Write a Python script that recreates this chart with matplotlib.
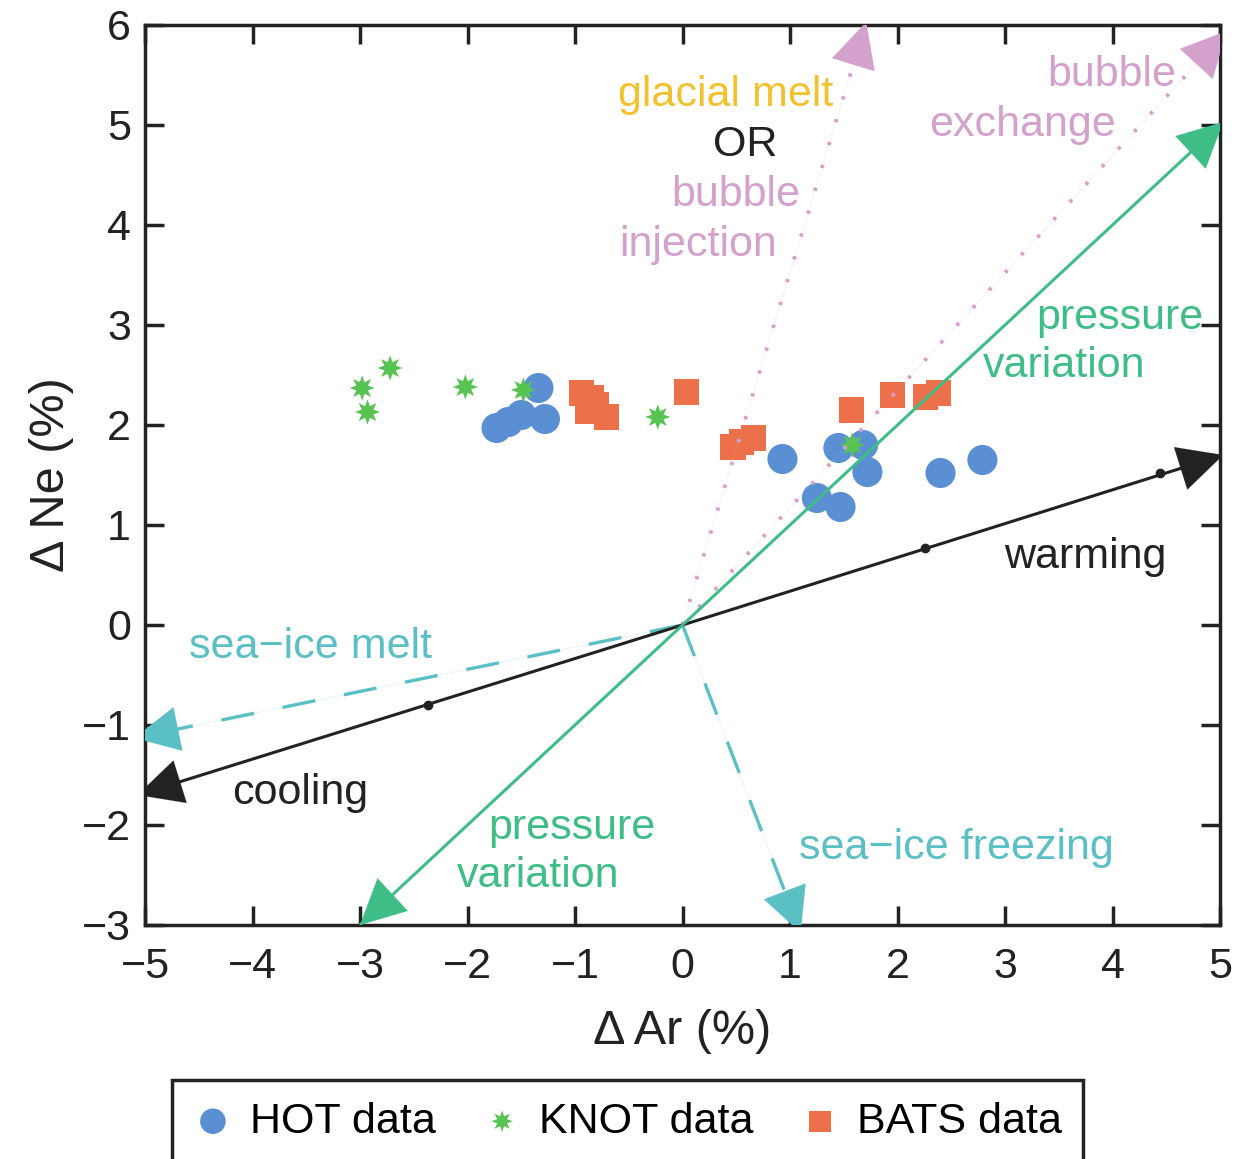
import matplotlib
matplotlib.use("Agg")
import matplotlib.pyplot as plt

plt.rcParams['font.family'] = ['Liberation Sans', 'DejaVu Sans']
plt.rcParams['lines.scale_dashes'] = False

# ---- data ----
hot_x = [-1.73, -1.62, -1.50, -1.34, -1.28, 0.93, 1.45, 1.68, 1.72, 1.25, 1.47, 2.40, 2.79]
hot_y = [1.97, 2.03, 2.10, 2.37, 2.06, 1.66, 1.77, 1.80, 1.53, 1.27, 1.18, 1.52, 1.65]

knot_x = [-2.72, -2.98, -2.93, -2.02, -1.48, -0.23, 1.58]
knot_y = [2.57, 2.37, 2.13, 2.38, 2.35, 2.08, 1.80]

bats_x = [-0.94, -0.85, -0.80, -0.88, -0.71, 0.04, 0.47, 0.55, 0.66, 1.57, 1.95, 2.26, 2.38]
bats_y = [2.32, 2.27, 2.20, 2.14, 2.08, 2.33, 1.78, 1.83, 1.87, 2.15, 2.30, 2.28, 2.32]

# process vectors (start, end)
warming = [(0, 0), (5.03, 1.70)]
cooling = [(0, 0), (-5.07, -1.70)]
temp_dots_x = [-2.37, 2.26, 4.44]
temp_dots_y = [-0.80, 0.77, 1.52]
pressure = [(-3.0, -3.0), (5.03, 5.03)]
seaice_melt = [(0, 0), (-5.10, -1.13)]
seaice_freeze = [(0, 0), (1.10, -3.08)]
glacial = [(0, 0), (1.71, 6.03)]
bubble_exch = [(0, 0), (5.06, 5.94)]

xticks = [-5, -4, -3, -2, -1, 0, 1, 2, 3, 4, 5]
yticks = [-3, -2, -1, 0, 1, 2, 3, 4, 5, 6]

# ---- colours ----
c_hot = '#5b8fd4'
c_knot = '#57c452'
c_bats = '#ec714a'
c_press = '#3fbd87'
c_cyan = '#5bc0c6'
c_pink = '#d4a0cc'
c_yellow = '#f2c12e'
c_dark = '#222222'

W, H = 1235, 1159
fig = plt.figure(figsize=(W / 100, H / 100), dpi=100)
ax = fig.add_axes([145 / W, 1 - 925 / H, 1075 / W, 900 / H])
ax.set_xlim(-5, 5)
ax.set_ylim(-3, 6)

FS = 31

ax.scatter(hot_x, hot_y, s=470, marker='o', color=c_hot, edgecolors='none',
           zorder=2, label='HOT data')
ax.scatter(knot_x, knot_y, s=330, marker=(8, 1, 0), color=c_knot, edgecolors='none',
           zorder=2.1, label='KNOT data')
ax.scatter(bats_x, bats_y, s=330, marker='s', color=c_bats, edgecolors='none',
           zorder=2.2, label='BATS data')

head = '-|>,head_length=1.6,head_width=0.8'


def arrow_head(p0, p1, color):
    ann = ax.annotate('', xy=p1, xytext=p0, xycoords='data', textcoords='data',
                      annotation_clip=False,
                      arrowprops=dict(arrowstyle=head, color=color, lw=0.1,
                                      shrinkA=0, shrinkB=0, mutation_scale=20),
                      zorder=4)
    ann.arrow_patch.set_clip_path(ax.patch)


def vec(seg, color, lw, dashes=None, both=False):
    (x0, y0), (x1, y1) = seg
    kw = dict(color=color, lw=lw, zorder=3, solid_capstyle='butt')
    if dashes is not None:
        kw['dashes'] = dashes
    ax.plot([x0, x1], [y0, y1], **kw)
    arrow_head((x0, y0), (x1, y1), color)
    if both:
        arrow_head((x1, y1), (x0, y0), color)


vec(glacial, c_pink, 2.8, dashes=(2.4, 14.8))
vec(bubble_exch, c_pink, 2.8, dashes=(2.4, 14.8))
vec(seaice_melt, c_cyan, 2.4, dashes=(24, 21))
vec(seaice_freeze, c_cyan, 2.4, dashes=(24, 21))
vec(warming, c_dark, 2.2)
vec(cooling, c_dark, 2.2)
ax.plot(temp_dots_x, temp_dots_y, 'o', color=c_dark, ms=6, zorder=3.5)
vec(pressure, c_press, 2.2, both=True)

# ---- labels ----
def lab(x, y, s, c):
    ax.text(x, y, s, color=c, fontsize=FS, ha='center', va='center', zorder=5)

lab(0.40, 5.30, 'glacial melt', c_yellow)
lab(0.58, 4.80, 'OR', c_dark)
lab(0.50, 4.30, 'bubble', c_pink)
lab(0.14, 3.80, 'injection', c_pink)
lab(3.99, 5.50, 'bubble', c_pink)
lab(3.16, 5.00, 'exchange', c_pink)
lab(4.07, 3.07, 'pressure', c_press)
lab(3.55, 2.59, 'variation', c_press)
lab(3.75, 0.68, 'warming', c_dark)
lab(-3.46, -0.22, 'sea\u2212ice melt', c_cyan)
lab(-3.56, -1.68, 'cooling', c_dark)
lab(-1.03, -2.03, 'pressure', c_press)
lab(-1.34, -2.51, 'variation', c_press)
lab(2.55, -2.23, 'sea\u2212ice freezing', c_cyan)

# ---- axes styling ----
ax.set_xticks(xticks)
ax.set_yticks(yticks)
for sp in ax.spines.values():
    sp.set_linewidth(2.5)
    sp.set_color(c_dark)
ax.tick_params(direction='in', length=14, width=2.5, color=c_dark,
               top=True, right=True, labelsize=31, labelcolor=c_dark)
ax.tick_params(axis='x', pad=16)
ax.tick_params(axis='y', pad=10)
ax.set_xlabel('\u0394 Ar (%)', fontsize=35, color=c_dark, labelpad=16)
ax.set_ylabel('\u0394 Ne (%)', fontsize=35, color=c_dark, labelpad=6)

leg = fig.legend(handles=ax.collections[:3], loc='upper left',
                 bbox_to_anchor=(172 / W, 1 - 1080 / H), ncol=3, fontsize=FS,
                 frameon=True, fancybox=False, framealpha=1, edgecolor=c_dark,
                 borderaxespad=0, handlelength=0.9, handletextpad=0.4,
                 columnspacing=1.1, borderpad=0.5, markerscale=0.85)
leg.get_frame().set_linewidth(2.5)

fig.savefig('out.png', dpi=100)
